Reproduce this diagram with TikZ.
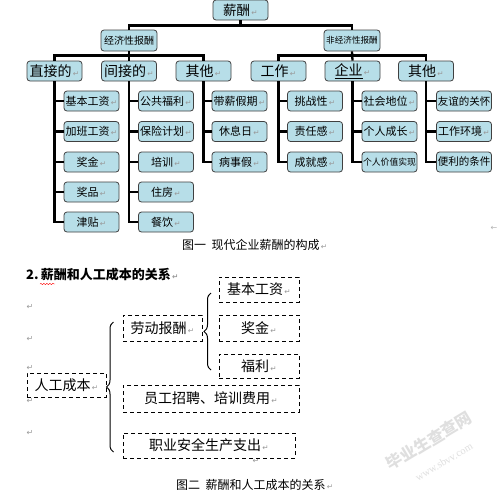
\documentclass[tikz,border=0pt]{standalone}
\usepackage{fontspec}
\setmainfont{Noto Sans CJK SC}
\newfontfamily\symfont{DejaVu Sans}
\newfontfamily\wmfont{Liberation Serif}
\usetikzlibrary{decorations.pathreplacing,decorations.pathmorphing,calc}
\definecolor{boxfill}{RGB}{183,222,232}
\definecolor{boxline}{RGB}{64,64,64}
\newcommand\retmark{{\symfont\color{gray!80}\fontsize{7.5}{7.5}\selectfont\,↵}}
\tikzset{
  box/.style={draw=boxline, fill=boxfill, rounded corners=3pt, line width=0.8pt,
    minimum width=55pt, minimum height=20pt, inner sep=0pt, font=\fontsize{11}{11}\selectfont},
  lvl/.style={box, font=\fontsize{14}{14}\selectfont},
  conn/.style={line width=2.3pt, black},
  dbox/.style={draw, dash pattern=on 4pt off 3pt, line width=0.9pt, inner sep=0pt,
    font=\fontsize{14}{14}\selectfont},
  pmark/.style={text=gray!80, font=\symfont\fontsize{8}{8}\selectfont, inner sep=0pt},
}
\begin{document}
\begin{tikzpicture}[x=1pt,y=-1pt]
\fill[white] (0,0) rectangle (500,493);
\useasboundingbox (0,0) rectangle (500,493);

% ---------- figure 1 ----------
\node[box, font=\fontsize{13.5}{14}\selectfont] (top) at (240.5,10) {薪酬\retmark};
\node[box, minimum width=56pt, minimum height=21pt, font=\fontsize{10}{10}\selectfont] (econ) at (129,40.5) {经济性报酬};
\node[box, minimum width=56pt, minimum height=21pt, font=\fontsize{8.6}{9}\selectfont] (non) at (352,40.5) {非经济性报酬};

\node[lvl] (d)  at (54.5,71)  {直接的\retmark};
\node[lvl] (i)  at (129,71)   {间接的\retmark};
\node[lvl] (o1) at (203.5,71) {其他\retmark};
\node[lvl] (w)  at (278.5,71) {工作\retmark};
\node[lvl] (e)  at (352.5,71) {\underline{企业}\retmark};
\node[lvl] (o2) at (426,71)   {其他\retmark};

% leaves
\node[box] (d1) at (91.5,101)   {基本工资\retmark};
\node[box] (d2) at (91.5,131.5) {加班工资\retmark};
\node[box] (d3) at (91.5,162)   {奖金\retmark};
\node[box] (d4) at (91.5,192)   {奖品\retmark};
\node[box] (d5) at (91.5,222)   {津贴\retmark};

\node[box] (i1) at (166,101)   {公共福利\retmark};
\node[box] (i2) at (166,131.5) {保险计划\retmark};
\node[box] (i3) at (166,162)   {培训\retmark};
\node[box] (i4) at (166,192)   {住房\retmark};
\node[box] (i5) at (166,222)   {餐饮\retmark};

\node[box] (a1) at (239.5,101)   {带薪假期\retmark};
\node[box] (a2) at (239.5,131.5) {休息日\retmark};
\node[box] (a3) at (239.5,162)   {病事假\retmark};

\node[box] (w1) at (315,101)   {挑战性\retmark};
\node[box] (w2) at (315,131.5) {责任感\retmark};
\node[box] (w3) at (315,162)   {成就感\retmark};

\node[box] (e1) at (389.5,101)   {社会地位\retmark};
\node[box] (e2) at (389.5,131.5) {个人成长\retmark};
\node[box, font=\fontsize{8.8}{9}\selectfont] (e3) at (389.5,162) {个人价值实现};

\node[box, font=\fontsize{10.5}{11}\selectfont] (b1) at (464,101)   {友谊的关怀};
\node[box] (b2) at (464,131.5) {工作环境\retmark};
\node[box, font=\fontsize{10.5}{11}\selectfont] (b3) at (464,162)   {便利的条件};

% connectors
\draw[conn] (top.south) -- ++(0,5);
\draw[conn] (econ.north) |- ($(top.south)+(0,5)$) -| (non.north);
\draw[conn] (econ.south) -- (i.north);
\draw[conn] (d.north) |- ($(econ.south)+(0,4)$) -| (o1.north);
\draw[conn] (non.south) -- (e.north);
\draw[conn] (w.north) |- ($(non.south)+(0,4)$) -| (o2.north);

\draw[conn] (d.south) |- (d5.west);
\foreach \k in {1,2,3,4} \draw[conn] (d.south |- d\k.west) -- (d\k.west);
\draw[conn] (i.south) |- (i5.west);
\foreach \k in {1,2,3,4} \draw[conn] (i.south |- i\k.west) -- (i\k.west);
\draw[conn] (o1.south) |- (a3.west);
\foreach \k in {1,2} \draw[conn] (o1.south |- a\k.west) -- (a\k.west);
\draw[conn] (w.south) |- (w3.west);
\foreach \k in {1,2} \draw[conn] (w.south |- w\k.west) -- (w\k.west);
\draw[conn] (e.south) |- (e3.west);
\foreach \k in {1,2} \draw[conn] (e.south |- e\k.west) -- (e\k.west);
\draw[conn] (o2.south) |- (b3.west);
\foreach \k in {1,2} \draw[conn] (o2.south |- b\k.west) -- (b\k.west);

\node[anchor=west, font=\fontsize{12}{12}\selectfont, inner sep=0pt] (cap1) at (182,245) {图一\ \ 现代企业薪酬的构成\retmark};
\node[text=gray!60, font=\symfont\fontsize{8}{8}\selectfont, inner sep=0pt] (stray) at (494,228) {←};

% ---------- figure 2 ----------
\node[anchor=west, font=\bfseries\fontsize{13}{13}\selectfont, inner sep=0pt] (h2) at (26,275) {2.\,薪酬和人工成本的关系\retmark};
\draw[red, decorate, decoration={snake, amplitude=0.7pt, segment length=3pt}] (40,284) -- (55,284);

\node[pmark] (p1) at (30,307) {↵};
\node[pmark] (p2) at (30,339) {↵};
\node[pmark] (p3) at (30,368) {↵};
\node[pmark] (p4) at (30,401) {↵};
\node[pmark] (p5) at (30,433) {↵};
\node[pmark] (p6) at (256,461) {↵};

\node[dbox, minimum width=80pt, minimum height=25pt] (jb) at (259,289.5) {基本工资\retmark};
\node[dbox, minimum width=80pt, minimum height=26pt] (jj) at (259,328)   {奖金\retmark};
\node[dbox, minimum width=80pt, minimum height=24pt] (fl) at (259,366)   {福利\retmark};
\node[dbox, minimum width=79pt, minimum height=26pt] (ld) at (162.5,328) {劳动报酬\retmark};
\node[dbox, minimum width=79pt, minimum height=24pt] (rg) at (66.5,385)  {人工成本\retmark};
\node[dbox, minimum width=176pt, minimum height=27pt] (zp) at (211,398.5) {员工招聘、培训费用\retmark};
\node[dbox, minimum width=172pt, minimum height=25pt] (aq) at (209,445.5) {职业安全生产支出\retmark};

\draw[line width=1pt, decorate, decoration={brace, amplitude=7pt}] (113.5,452) -- (113.5,322);
\draw[line width=1pt, decorate, decoration={brace, amplitude=7pt}] (211,370) -- (211,293);

\node[anchor=west, font=\fontsize{12}{12}\selectfont, inner sep=0pt] (cap2) at (176,485) {图二\ \ 薪酬和人工成本的关系\retmark};

% watermark
\node[rotate=31, text=gray!25, font=\bfseries\fontsize{16}{16}\selectfont, inner sep=0pt] (wm1) at (429,441) {毕业生查查网};
\node[rotate=31, text=gray!25, font=\wmfont\fontsize{10.5}{10.5}\selectfont, inner sep=0pt] (wm2) at (444,462) {www.sbvv.com};
\end{tikzpicture}
\end{document}
